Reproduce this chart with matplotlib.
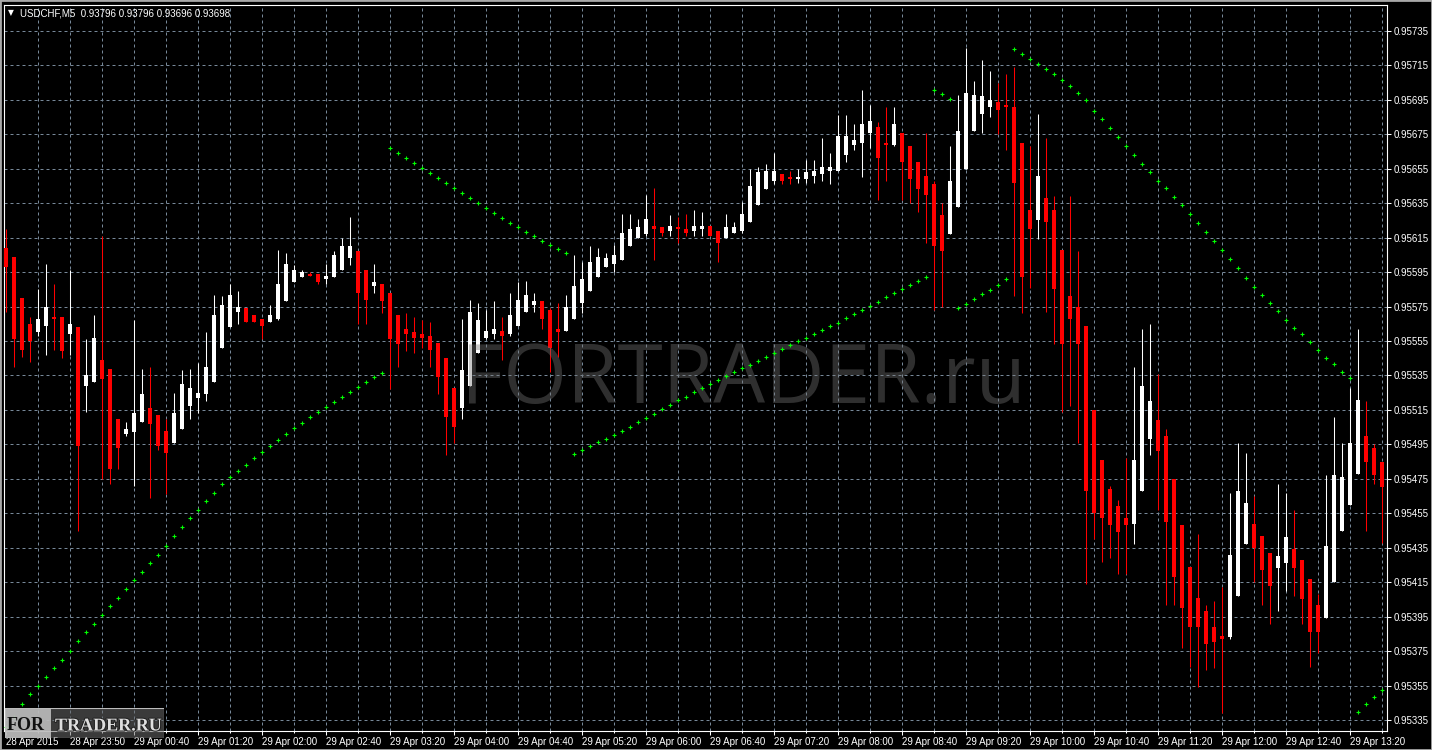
import matplotlib
matplotlib.use("Agg")
import matplotlib.pyplot as plt
from matplotlib.patches import Rectangle
import matplotlib.patheffects as pe

plt.rcParams['font.family'] = ['Liberation Sans', 'DejaVu Sans']

W, H = 1432, 750
PT = 1e-5  # prices below are in points (0.00001)

# USDCHF M5 candles, one per 5-minute bar
opens = [95609, 95604, 95580, 95565, 95560, 95564, 95569, 95569, 95559, 95563,
         95529, 95531, 95544, 95539, 95510, 95501, 95502, 95508, 95516, 95512,
         95503, 95496, 95504, 95517, 95522, 95524, 95531, 95551, 95563, 95572,
         95574, 95570, 95568, 95566, 95568, 95578, 95589, 95592, 95594, 95594,
         95591, 95592, 95596, 95603, 95607, 95596, 95587, 95588, 95583, 95570,
         95562, 95560, 95559, 95558, 95554, 95545, 95528, 95516, 95529, 95548,
         95557, 95559, 95561, 95559, 95564, 95572, 95576, 95578, 95573, 95562,
         95561, 95568, 95577, 95584, 95592, 95598, 95600, 95602, 95610, 95615,
         95617, 95622, 95621, 95619, 95621, 95620, 95619, 95620, 95622, 95619,
         95615, 95618, 95619, 95624, 95634, 95643, 95648, 95652, 95650, 95649,
         95649, 95651, 95652, 95654, 95654, 95663, 95669, 95670, 95676, 95679,
         95670, 95669, 95676, 95668, 95659, 95651, 95646, 95628, 95617, 95633,
         95655, 95677, 95687, 95691, 95694, 95692, 95691, 95670, 95631, 95625,
         95638, 95631, 95608, 95581, 95575, 95564, 95515, 95486, 95469, 95459,
         95452, 95449, 95468, 95498, 95509, 95500, 95475, 95448, 95424, 95406,
         95398, 95389, 95384, 95383, 95407, 95437, 95449, 95442, 95432, 95423,
         95426, 95434, 95428, 95417, 95402, 95394, 95415, 95445, 95460, 95478,
         95500, 95493, 95485]
highs = [95620, 95604, 95580, 95569, 95585, 95600, 95588, 95569, 95596, 95563,
         95556, 95570, 95616, 95539, 95510, 95508, 95567, 95539, 95540, 95512,
         95510, 95525, 95538, 95539, 95542, 95560, 95582, 95581, 95588, 95584,
         95574, 95570, 95568, 95576, 95608, 95606, 95599, 95596, 95595, 95594,
         95600, 95607, 95615, 95627, 95607, 95596, 95600, 95588, 95583, 95570,
         95571, 95569, 95567, 95566, 95554, 95545, 95528, 95568, 95579, 95577,
         95573, 95578, 95569, 95583, 95589, 95590, 95583, 95578, 95574, 95577,
         95582, 95605, 95601, 95610, 95609, 95606, 95611, 95629, 95629, 95626,
         95640, 95644, 95621, 95628, 95627, 95629, 95631, 95630, 95622, 95619,
         95629, 95624, 95636, 95655, 95656, 95658, 95664, 95652, 95654, 95655,
         95660, 95660, 95673, 95664, 95686, 95686, 95681, 95701, 95692, 95682,
         95691, 95691, 95676, 95668, 95659, 95676, 95648, 95635, 95668, 95698,
         95725, 95706, 95718, 95712, 95705, 95710, 95714, 95670, 95668, 95687,
         95673, 95639, 95608, 95639, 95607, 95564, 95515, 95486, 95471, 95463,
         95487, 95540, 95562, 95565, 95536, 95504, 95475, 95448, 95424, 95443,
         95402, 95404, 95412, 95467, 95496, 95490, 95465, 95442, 95432, 95472,
         95467, 95457, 95428, 95417, 95408, 95477, 95511, 95496, 95528, 95562,
         95520, 95495, 95485]
lows = [95572, 95540, 95546, 95543, 95558, 95547, 95550, 95545, 95547, 95445,
        95514, 95531, 95475, 95472, 95481, 95500, 95471, 95508, 95464, 95492,
        95466, 95496, 95504, 95510, 95513, 95520, 95531, 95551, 95563, 95565,
        95566, 95566, 95556, 95566, 95567, 95578, 95589, 95592, 95593, 95588,
        95588, 95592, 95596, 95599, 95565, 95565, 95583, 95571, 95527, 95540,
        95549, 95548, 95551, 95540, 95524, 95489, 95496, 95510, 95529, 95548,
        95556, 95556, 95544, 95558, 95564, 95572, 95572, 95562, 95537, 95546,
        95561, 95568, 95571, 95584, 95592, 95598, 95595, 95602, 95610, 95615,
        95616, 95602, 95616, 95616, 95612, 95616, 95616, 95616, 95616, 95601,
        95615, 95618, 95618, 95624, 95634, 95643, 95646, 95646, 95646, 95647,
        95647, 95647, 95648, 95646, 95654, 95659, 95666, 95650, 95667, 95637,
        95648, 95668, 95637, 95635, 95630, 95612, 95573, 95575, 95617, 95633,
        95655, 95677, 95676, 95685, 95675, 95666, 95581, 95571, 95586, 95614,
        95572, 95553, 95514, 95517, 95496, 95414, 95440, 95427, 95429, 95420,
        95420, 95437, 95468, 95489, 95457, 95402, 95402, 95377, 95366, 95354,
        95364, 95365, 95339, 95382, 95407, 95437, 95415, 95402, 95391, 95398,
        95410, 95407, 95391, 95366, 95374, 95394, 95415, 95445, 95460, 95478,
        95445, 95472, 95438]
closes = [95598, 95556, 95550, 95555, 95568, 95575, 95568, 95549, 95565, 95494,
          95535, 95557, 95533, 95481, 95493, 95504, 95513, 95524, 95507, 95494,
          95490, 95513, 95530, 95528, 95525, 95540, 95570, 95576, 95582, 95575,
          95566, 95566, 95564, 95570, 95588, 95600, 95596, 95595, 95593, 95589,
          95593, 95605, 95610, 95610, 95583, 95579, 95589, 95578, 95556, 95553,
          95559, 95557, 95557, 95550, 95534, 95511, 95505, 95538, 95572, 95567,
          95561, 95562, 95558, 95570, 95579, 95582, 95578, 95568, 95551, 95560,
          95575, 95587, 95591, 95601, 95604, 95603, 95605, 95618, 95620, 95621,
          95626, 95620, 95618, 95622, 95620, 95618, 95622, 95622, 95616, 95612,
          95621, 95621, 95629, 95645, 95653, 95654, 95654, 95648, 95649, 95650,
          95653, 95654, 95656, 95656, 95674, 95674, 95672, 95681, 95683, 95661,
          95669, 95681, 95659, 95649, 95643, 95640, 95610, 95607, 95648, 95677,
          95699, 95698, 95697, 95695, 95689, 95691, 95647, 95592, 95620, 95651,
          95624, 95585, 95553, 95568, 95553, 95468, 95455, 95452, 95448, 95444,
          95448, 95486, 95529, 95520, 95491, 95450, 95418, 95400, 95389, 95389,
          95379, 95380, 95382, 95431, 95468, 95461, 95435, 95422, 95413, 95430,
          95441, 95423, 95405, 95386, 95386, 95436, 95477, 95476, 95496, 95521,
          95485, 95477, 95470]

# Parabolic SAR dots
sar = [95331, 95337, 95344, 95350, 95355, 95360, 95365, 95370, 95375, 95381,
       95386, 95391, 95396, 95401, 95406, 95411, 95416, 95421, 95426, 95431,
       95436, 95442, 95447, 95452, 95457, 95462, 95467, 95472, 95476, 95479.5,
       95483, 95487, 95490.4, 95493.9, 95497.4, 95500.8, 95504.3, 95507.2, 95510.7, 95513.6,
       95516.5, 95519.4, 95522.3, 95525.2, 95528.1, 95531, 95533.9, 95536.3, 95667, 95664.2,
       95661.3, 95658.4, 95655.5, 95652.6, 95649.7, 95646.8, 95643.9, 95641, 95638, 95635.3,
       95632.4, 95629.5, 95626.6, 95623.7, 95621.4, 95618.5, 95616.2, 95613.3, 95611, 95608.6,
       95606.3, 95489.2, 95491.6, 95493.9, 95496.2, 95497.9, 95500.2, 95502.6, 95504.9, 95507.8,
       95510.1, 95512.4, 95515.3, 95517.6, 95520.5, 95522.8, 95525.2, 95527.5, 95529.8, 95532.2,
       95534.6, 95536.9, 95539.2, 95541, 95543.3, 95545.6, 95547.9, 95550.3, 95552.6, 95554.9,
       95556.6, 95559, 95561.3, 95563.6, 95565.3, 95568.2, 95570.5, 95572.8, 95575.2, 95577.5,
       95580.4, 95582.7, 95585, 95587.3, 95589.7, 95592, 95700.9, 95698.6, 95695.7, 95574,
       95576.3, 95579.3, 95582.2, 95584.9, 95587.8, 95590.8, 95724.5, 95721.6, 95718.7, 95715.7,
       95712.8, 95709.9, 95706.4, 95703, 95698.9, 95694.7, 95688.8, 95683.9, 95678.6, 95673.4,
       95668, 95662.9, 95657.5, 95652.9, 95648.2, 95643.6, 95638.5, 95633.8, 95628.7, 95623.3,
       95618.2, 95612.8, 95607.6, 95602.4, 95597.2, 95591.8, 95586.6, 95582, 95576.8, 95572.2,
       95567.4, 95562.8, 95558.8, 95554.2, 95550, 95545.4, 95541.4, 95537.2, 95533.8, 95339.8,
       95344, 95348.6, 95352.6]

time_labels = ["28 Apr 2015", "28 Apr 23:50", "29 Apr 00:40", "29 Apr 01:20",
               "29 Apr 02:00", "29 Apr 02:40", "29 Apr 03:20", "29 Apr 04:00",
               "29 Apr 04:40", "29 Apr 05:20", "29 Apr 06:00", "29 Apr 06:40",
               "29 Apr 07:20", "29 Apr 08:00", "29 Apr 08:40", "29 Apr 09:20",
               "29 Apr 10:00", "29 Apr 10:40", "29 Apr 11:20", "29 Apr 12:00",
               "29 Apr 12:40", "29 Apr 13:20"]
price_ticks = [95335 + 20 * k for k in range(21)]

header = "USDCHF,M5  0.93796 0.93796 0.93696 0.93698"

GRID = '#778899'
BULL = '#ffffff'
BEAR = '#ff0000'

n = len(opens)
xs = list(range(n))
o = [v * PT for v in opens]
h = [v * PT for v in highs]
l = [v * PT for v in lows]
c = [v * PT for v in closes]

fig = plt.figure(figsize=(W / 100, H / 100), dpi=100, facecolor='black')
ax = fig.add_axes([4 / W, 1 - 731 / H, (1387 - 4) / W, (731 - 5) / H])
ax.set_facecolor('black')
ax.set_xlim(-0.25, 172.625)
ax.set_ylim(0.9532861, 0.9575009)

# grid
for p in price_ticks:
    ax.axhline(p * PT, color=GRID, lw=0.72, ls=(0, (3, 3)), zorder=1)
for i in range(4, n, 4):
    ax.axvline(i, color=GRID, lw=0.72, ls=(0, (3, 3)), zorder=1)

# candles
colors = [BULL if c[i] > o[i] else BEAR for i in xs]
bottoms = [min(o[i], c[i]) for i in xs]
heights = [max(abs(c[i] - o[i]), 0.7 * PT) for i in xs]
ax.vlines(xs, l, h, colors=colors, linewidth=0.75, zorder=2)
ax.bar(xs, heights, width=0.62, bottom=bottoms, color=colors, linewidth=0, zorder=3)

# watermark
ax.text(0.5344, 0.4518, "FORTRADER.ru", transform=ax.transAxes, ha='center',
        va='baseline', fontsize=59, family=['Open Sans', 'DejaVu Sans'],
        color='#777777', alpha=0.4, zorder=4)

# parabolic SAR
ax.plot(xs, [v * PT for v in sar], linestyle='none', marker='+', markersize=3.5,
        mew=0.8, color='#00ff00', zorder=5)

for s in ax.spines.values():
    s.set_color('white')
    s.set_linewidth(0.8)

major_x = list(range(0, n, 8))
ax.set_xticks(major_x)
ax.set_xticklabels(time_labels[:len(major_x)], ha='left')
ax.set_xticks(list(range(4, n, 8)), minor=True)
ax.tick_params(axis='x', which='major', colors='white', direction='out', length=3,
               width=0.75, pad=1.2, labelsize=7)
ax.tick_params(axis='x', which='minor', colors='white', direction='out', length=1.5,
               width=0.75)

ax.yaxis.tick_right()
ax.set_yticks([p * PT for p in price_ticks])
ax.set_yticklabels([f"{p * PT:.5f}" for p in price_ticks])
ax.tick_params(axis='y', colors='white', direction='out', length=3, width=0.75,
               pad=1.5, labelsize=7)

# header
fig.text(8 / W, 1 - 13 / H, "\u25bc", fontsize=5.5, color='white', va='center',
         family='DejaVu Sans')
fig.text(20 / W, 1 - 13 / H, header, fontsize=7, color='white', va='center')

# logo box bottom-left
lax = fig.add_axes([5 / W, 1 - 738 / H, 159 / W, 30 / H])
lax.set_xlim(0, 159)
lax.set_ylim(0, 30)
lax.axis('off')
lax.add_patch(Rectangle((0, 0), 159, 30, facecolor='#6a6a6a', alpha=0.55,
                        edgecolor='none'))
lax.add_patch(Rectangle((0, 0), 46, 30, facecolor='#c4c4c4', alpha=0.85,
                        edgecolor='none'))
lax.add_patch(Rectangle((0, 0), 159, 30, fill=False, edgecolor='#bcbcbc', lw=0.8))
lax.text(2, 7.5, "FOR", fontsize=13, fontweight='bold', color='#111111',
         family=['Liberation Serif', 'DejaVu Serif'])
lax.text(50, 7.5, "TRADER.RU", fontsize=13, fontweight='bold', color='#dedede',
         family=['Liberation Serif', 'DejaVu Serif'],
         path_effects=[pe.withStroke(linewidth=1.5, foreground='#222222')])

fig.add_artist(Rectangle((0, 0), 1, 1, transform=fig.transFigure, fill=False,
                         edgecolor='#a8a8a8', lw=2))

fig.savefig('out.png', dpi=100, facecolor='black')
